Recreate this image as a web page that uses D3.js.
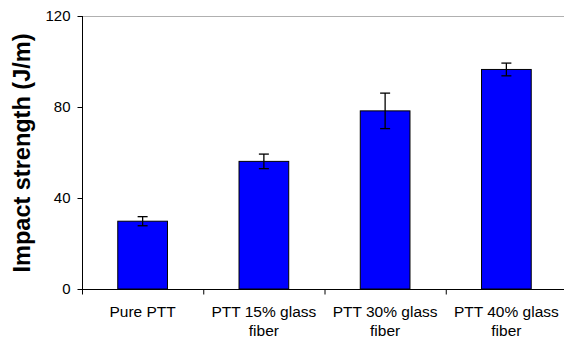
<!DOCTYPE html>
<html>
<head>
<meta charset="utf-8">
<script src="https://cdn.jsdelivr.net/npm/d3@7"></script>
<style>
  body { margin: 0; background: #fff; }
  svg { display: block; font-family: "Liberation Sans", Arial, sans-serif; }
</style>
</head>
<body>
<svg id="chart" width="564" height="339"></svg>
<script>
// data
const categories = ['Pure PTT', 'PTT 15% glass fiber', 'PTT 30% glass fiber', 'PTT 40% glass fiber'];
const labelLines = [['Pure PTT'], ['PTT 15% glass', 'fiber'], ['PTT 30% glass', 'fiber'], ['PTT 40% glass', 'fiber']];
const values = [29.8, 56.1, 78.3, 96.5];
const errors = [2.0, 3.2, 7.8, 2.8];
const yTicks = [0, 40, 80, 120];

const svg = d3.select('#chart');
const plotL = 82, plotR = 567, plotT = 16, plotB = 289;

const x = d3.scaleBand().domain(categories).range([plotL, plotR]);
const y = d3.scaleLinear().domain([0, 120]).range([plotB, plotT]);
const barW = x.step() * 0.41;

// top frame line
svg.append('line')
  .attr('x1', plotL).attr('x2', plotR)
  .attr('y1', y(120) + 0.5).attr('y2', y(120) + 0.5)
  .attr('stroke', '#b0b0b0').attr('stroke-width', 1);

// bars
svg.append('g').selectAll('rect')
  .data(categories)
  .join('rect')
  .attr('x', (d, i) => x(d) + x.bandwidth() / 2 - barW / 2)
  .attr('y', (d, i) => y(values[i]))
  .attr('width', barW)
  .attr('height', (d, i) => y(0) - y(values[i]))
  .attr('fill', '#0000ff')
  .attr('stroke', '#000')
  .attr('stroke-width', 1);

// error bars
const eg = svg.append('g').attr('stroke', '#000').attr('stroke-width', 1.3);
categories.forEach((c, i) => {
  const cx = x(c) + x.bandwidth() / 2;
  const hi = y(values[i] + errors[i]), lo = y(values[i] - errors[i]);
  eg.append('line').attr('x1', cx).attr('x2', cx).attr('y1', hi).attr('y2', lo);
  eg.append('line').attr('x1', cx - 5).attr('x2', cx + 5).attr('y1', hi).attr('y2', hi);
  eg.append('line').attr('x1', cx - 5).attr('x2', cx + 5).attr('y1', lo).attr('y2', lo);
});

// y axis
const yAxis = svg.append('g')
  .attr('transform', `translate(${plotL + 0.5},0)`)
  .call(d3.axisLeft(y).tickValues(yTicks).tickSize(5).tickPadding(7));
yAxis.select('.domain').attr('d', `M0,${plotT}V${plotB + 5}`);
yAxis.selectAll('text').attr('font-size', 15).attr('fill', '#000')
  .attr('font-family', '"Liberation Sans", Arial, sans-serif');

// x axis
const xAxis = svg.append('g').attr('transform', `translate(0,${plotB + 0.5})`);
xAxis.append('line').attr('x1', plotL).attr('x2', plotR).attr('stroke', '#000');
xAxis.selectAll('.tk')
  .data(categories)
  .join('line')
  .attr('x1', d => x(d) + 0.5).attr('x2', d => x(d) + 0.5)
  .attr('y1', 0).attr('y2', 5)
  .attr('stroke', '#000');
xAxis.selectAll('text')
  .data(categories)
  .join('text')
  .attr('text-anchor', 'middle')
  .attr('font-size', 15.5)
  .attr('fill', '#000')
  .each(function(d, i) {
    const t = d3.select(this);
    labelLines[i].forEach((ln, k) => {
      t.append('tspan')
        .attr('x', x(d) + x.bandwidth() / 2)
        .attr('y', 27.5 + k * 18.5)
        .text(ln);
    });
  });

// y label
svg.append('text')
  .attr('transform', `translate(30,153) rotate(-90)`)
  .attr('text-anchor', 'middle')
  .attr('font-size', 23.5)
  .attr('font-weight', 'bold')
  .text('Impact strength (J/m)');
</script>
</body>
</html>
